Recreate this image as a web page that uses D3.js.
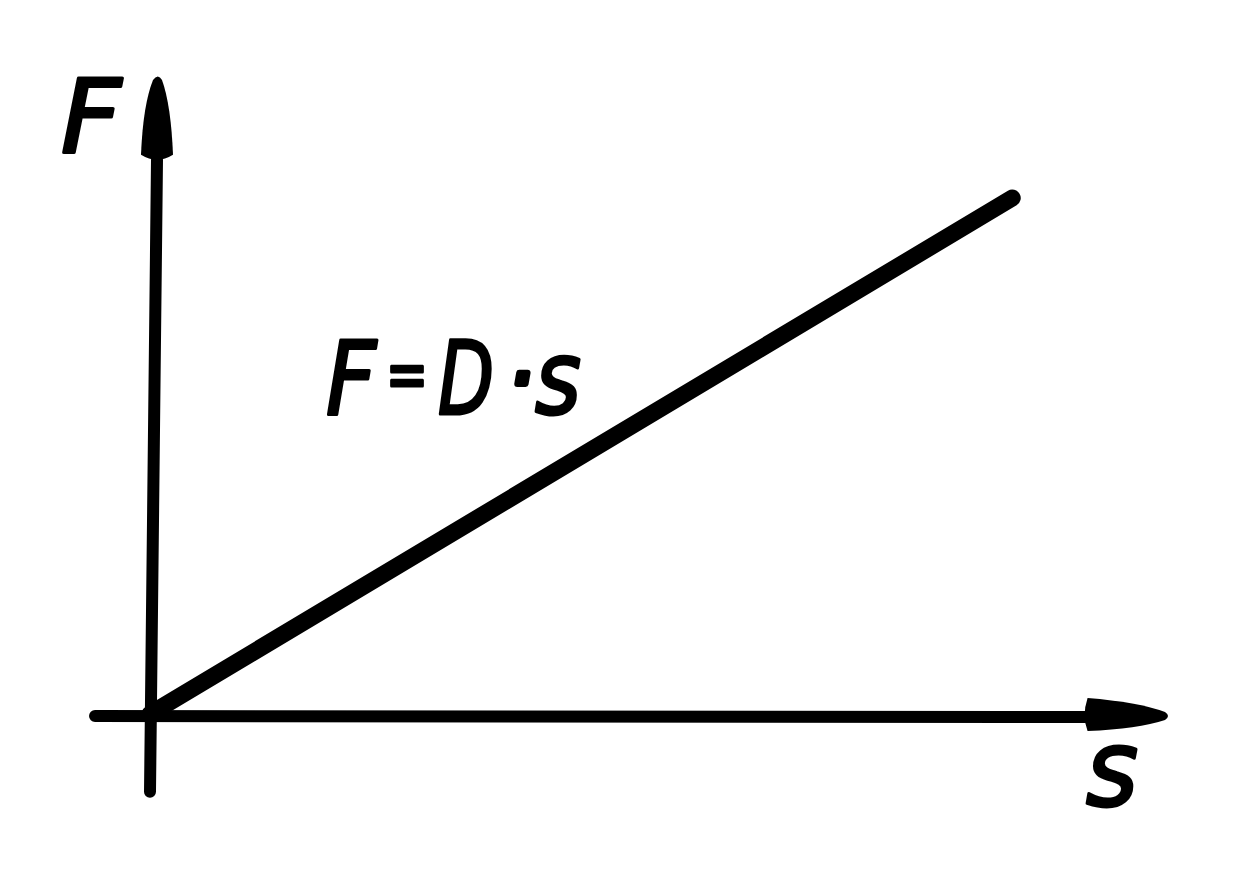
<!DOCTYPE html>
<html>
<head>
<meta charset="utf-8">
<script src="https://cdn.jsdelivr.net/npm/d3@7"></script>
<style>
  html, body { margin: 0; padding: 0; background: #fff; }
  svg { display: block; }
</style>
</head>
<body>
<svg id="chart" width="1254" height="886"></svg>
<script>
// Data
const sValues = [0, 8.47];
const FValues = [0, 8.1];
const xAxisLabel = "s";
const yAxisLabel = "F";
const lineLabelParts = ["F", "=", "D", "·", "s"];

const W = 1254, H = 886;
const svg = d3.select("#chart");

const x = d3.scaleLinear().domain([0, 10]).range([150, 1168]);
const y = d3.scaleLinear().domain([0, 10]).range([714, 77]);

const ink = "#000";

// X axis (line with arrow)
svg.append("line")
  .attr("x1", x(-0.54)).attr("x2", x(9.3))
  .attr("y1", y(0) + 2).attr("y2", y(0) + 3)
  .attr("stroke", ink).attr("stroke-width", 12).attr("stroke-linecap", "round");
// x arrowhead (convex)
{
  const tipX = x(10), baseX = x(9.21), cy = y(0) + 2;
  svg.append("path")
    .attr("d", `M${baseX},${cy - 18} Q${tipX - 30},${cy - 14} ${tipX - 3},${cy - 4} Q${tipX + 3},${cy} ${tipX - 3},${cy + 4} Q${tipX - 30},${cy + 13} ${baseX},${cy + 15} Q${baseX - 6},${cy} ${baseX},${cy - 18} Z`)
    .attr("fill", ink);
}

// Y axis
const yTopX = x(0) + 7;
svg.append("line")
  .attr("x1", x(0)).attr("x2", yTopX)
  .attr("y1", y(-1.22)).attr("y2", y(8.7))
  .attr("stroke", ink).attr("stroke-width", 12).attr("stroke-linecap", "round");
// y arrowhead (convex)
{
  const tipY = y(10), baseY = y(8.78), cx = yTopX;
  svg.append("path")
    .attr("d", `M${cx - 16},${baseY} Q${cx - 14},${tipY + 28} ${cx - 4},${tipY + 3} Q${cx + 1},${tipY - 4} ${cx + 5},${tipY + 3} Q${cx + 14},${tipY + 28} ${cx + 16},${baseY} Q${cx},${baseY + 10} ${cx - 16},${baseY} Z`)
    .attr("fill", ink);
}

// Data line F = D·s
const pts = sValues.map((s, i) => [s, FValues[i]]);
svg.append("path")
  .datum(pts)
  .attr("d", d3.line().x(d => x(d[0])).y(d => y(d[1])))
  .attr("fill", "none")
  .attr("stroke", ink)
  .attr("stroke-width", 17)
  .attr("stroke-linecap", "round");

const font = "'DejaVu Sans Condensed', 'DejaVu Sans', sans-serif";

function label(t) {
  return t.attr("font-family", font).attr("font-style", "italic")
    .attr("fill", ink).attr("stroke", ink).attr("stroke-width", 3)
    .attr("stroke-linejoin", "round");
}

// Y label
label(svg.append("text"))
  .attr("x", 61).attr("y", 152)
  .attr("font-size", 102)
  .attr("textLength", 60).attr("lengthAdjust", "spacingAndGlyphs")
  .text(yAxisLabel);

// X label
label(svg.append("text"))
  .attr("x", 1086).attr("y", 806)
  .attr("font-size", 106)
  .attr("textLength", 52).attr("lengthAdjust", "spacingAndGlyphs")
  .text(xAxisLabel);

// Line label F=D·s
const lbl = label(svg.append("text")).attr("y", 414).attr("font-size", 102);
const partX = [326, 386, 438, 508, 535];
const partSize = [102, 70, 102, 90, 102];
const partLen = [50, 42, 56, null, 46];
const partDy = [0, -16, 0, -4, 0];
const partStroke = [3, 3, 3, 6, 3];
lineLabelParts.forEach((p, i) => {
  const t = lbl.append("tspan")
    .attr("x", partX[i]).attr("y", 414 + partDy[i])
    .attr("font-size", partSize[i])
    .attr("stroke-width", partStroke[i])
    .text(p);
  if (partLen[i]) t.attr("textLength", partLen[i]).attr("lengthAdjust", "spacingAndGlyphs");
});
</script>
</body>
</html>
